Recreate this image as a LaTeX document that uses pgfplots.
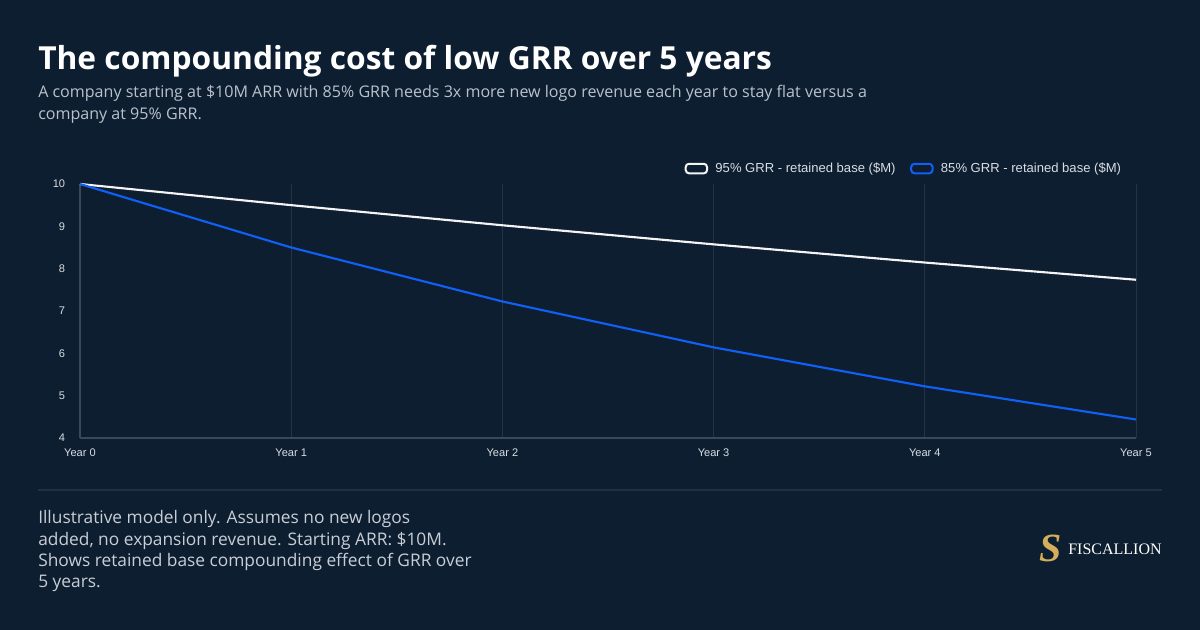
\documentclass[border=0pt]{standalone}
\usepackage{fontspec}
\setmainfont{Open Sans}
\newfontfamily\arialfont{Liberation Sans}
\newfontfamily\seriffont{Liberation Serif}
\usepackage{pgfplots}
\pgfplotsset{compat=1.18}

\definecolor{bg}{HTML}{0D1E30}
\definecolor{gridc}{HTML}{233447}
\definecolor{axisc}{HTML}{3A4858}
\definecolor{sepc}{HTML}{1F3144}
\definecolor{ticktext}{HTML}{D8DDE3}
\definecolor{subtext}{HTML}{B9C2CC}
\definecolor{foottext}{HTML}{C8CED6}
\definecolor{lineWhite}{HTML}{F4F4F4}
\definecolor{lineBlue}{HTML}{1160F5}
\definecolor{gold}{HTML}{D4AE5C}

\begin{document}
\begin{tikzpicture}
% canvas: 900pt x 472.5pt
\fill[bg] (0pt,0pt) rectangle (900pt,472.5pt);

% title and subtitle
\node[anchor=base west, inner sep=0pt, text=white, font=\fontsize{23.8pt}{28pt}\selectfont\bfseries] at (28.5pt,420pt) {The compounding cost of low GRR over 5 years};
\node[anchor=base west, inner sep=0pt, text=subtext, font=\fontsize{12.05pt}{15pt}\selectfont] at (28.5pt,399pt) {A company starting at \$10M ARR with 85\% GRR needs 3x more new logo revenue each year to stay flat versus a};
\node[anchor=base west, inner sep=0pt, text=subtext, font=\fontsize{12.05pt}{15pt}\selectfont] at (28.5pt,382.5pt) {company at 95\% GRR.};

% chart
\begin{axis}[
  at={(60pt,144pt)}, anchor=south west,
  scale only axis, width=792pt, height=190.5pt,
  xmin=0, xmax=5, ymin=4, ymax=10,
  xtick={0,1,2,3,4,5},
  xticklabels={Year 0,Year 1,Year 2,Year 3,Year 4,Year 5},
  ytick={4,5,6,7,8,9,10},
  axis lines*=left,
  axis line style={axisc, line width=0.8pt},
  xmajorgrids, grid style={gridc, line width=0.6pt},
  major tick length=0pt,
  /pgf/number format/assume math mode=true,
  tick label style={text=ticktext, font=\arialfont\fontsize{8.3pt}{10pt}\selectfont},
  yticklabel style={inner sep=0pt, xshift=-11pt},
  xticklabel style={inner sep=0pt, yshift=-8pt},
  clip=false,
  legend columns=2,
  legend style={at={(1,1)}, anchor=south east, xshift=-6pt, yshift=3pt,
    draw=none, fill=none, text=ticktext,
    font=\arialfont\fontsize{9.8pt}{11pt}\selectfont,
    /tikz/every even column/.append style={column sep=9pt}},
  legend image code/.code={\draw[#1, line width=1.5pt, rounded corners=2.5pt, fill=bg] (0pt,-3.6pt) rectangle (16pt,3.6pt);
    \path (19.5pt,0pt);},
]
\addplot[lineWhite, line width=1.6pt] coordinates {(0,10) (1,9.5) (2,9.025) (3,8.574) (4,8.145) (5,7.738)};
\addlegendentry{95\% GRR - retained base (\$M)}
\addplot[lineBlue, line width=1.6pt] coordinates {(0,10) (1,8.5) (2,7.225) (3,6.141) (4,5.220) (5,4.437)};
\addlegendentry{85\% GRR - retained base (\$M)}
\end{axis}

% separator
\draw[sepc, line width=1.2pt] (28.5pt,105pt) -- (871.5pt,105pt);

% footnote
\foreach \txt/\yy in {{Illustrative model only. Assumes no new logos}/79.5pt,
                      {added, no expansion revenue. Starting ARR: \$10M.}/63pt,
                      {Shows retained base compounding effect of GRR over}/47.25pt,
                      {5 years.}/31.5pt}{
  \node[anchor=base west, inner sep=0pt, text=foottext, font=\fontsize{13pt}{16pt}\selectfont] at (28.5pt,\yy) {\txt};
}

% logo
\node[anchor=center, inner sep=0pt, text=gold, font=\seriffont\fontsize{30pt}{32pt}\selectfont\bfseries\itshape] at (788pt,61.5pt) {S};
\node[anchor=west, inner sep=0pt, text=white, font=\seriffont\fontsize{12pt}{14pt}\selectfont] at (801pt,60.75pt) {FISCALLION};
\end{tikzpicture}
\end{document}
